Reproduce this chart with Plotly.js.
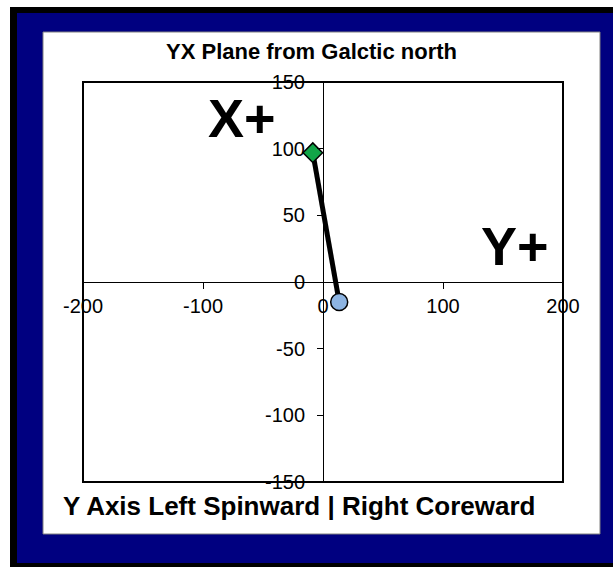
<!DOCTYPE html>
<html>
<head>
<meta charset="utf-8">
<script src="https://cdn.plot.ly/plotly-3.0.1.min.js"></script>
<style>
  html, body { margin: 0; padding: 0; background: #ffffff; }
  #chart { width: 613px; height: 569px; }
</style>
</head>
<body>
<div id="chart"></div>
<script>
// ---- data ----
var yCoordinates = [-8.5, 13.5];      // horizontal axis: Y (spinward - / coreward +)
var xCoordinates = [97, -15];         // vertical axis: X
var pointSymbols = ['diamond', 'circle'];
var pointColors = ['#12a548', '#8db4e2'];
var xTickValues = [-200, -100, 0, 100, 200];
var yTickValues = [150, 100, 50, 0, -50, -100, -150];
var chartTitle = 'YX Plane from Galctic north';
var axisCaption = 'Y Axis Left Spinward | Right Coreward';
var quadrantLabels = ['X+', 'Y+'];

// ---- geometry helpers (plot area 83..563 x 82..482) ----
var L = 83, T = 82, W = 480, H = 400;
function xp(px) { return (px - L) / W; }
function yp(py) { return (T + H - py) / H; }

var fontFam = 'Arial, "Liberation Sans", Helvetica, sans-serif';

var trace = {
  type: 'scatter',
  mode: 'lines+markers',
  x: yCoordinates,
  y: xCoordinates,
  opacity: 1,
  line: { color: '#000000', width: 5 },
  marker: {
    symbol: pointSymbols,
    color: pointColors,
    size: [15, 17],
    opacity: 1,
    line: { color: '#000000', width: 1.5 }
  },
  hoverinfo: 'x+y',
  showlegend: false,
  cliponaxis: false
};

var layout = {
  width: 613,
  height: 569,
  margin: { l: L, r: 613 - L - W, t: T, b: 569 - T - H, pad: 0 },
  paper_bgcolor: '#ffffff',
  plot_bgcolor: '#ffffff',
  showlegend: false,
  font: { family: fontFam, color: '#000000', size: 20 },
  title: {
    text: '<b>' + chartTitle + '</b>',
    font: { family: fontFam, size: 22, color: '#000000' },
    x: 311.5 / 613, xanchor: 'center',
    y: 1 - 51 / 569, yanchor: 'middle',
    xref: 'container', yref: 'container'
  },
  xaxis: {
    range: [-200, 200],
    tickvals: xTickValues,
    ticktext: xTickValues.map(String),
    anchor: 'free', position: 0.5,
    showline: true, linecolor: '#000000', linewidth: 1,
    ticks: 'outside', ticklen: 6, tickwidth: 1, tickcolor: '#000000',
    ticklabelstandoff: 0,
    showgrid: false, zeroline: false,
    tickfont: { family: fontFam, size: 20, color: '#000000' },
    fixedrange: true
  },
  xaxis2: {
    overlaying: 'x', matches: 'x',
    range: [-200, 200],
    tickvals: xTickValues,
    anchor: 'free', position: 0.5,
    showline: false,
    ticks: 'inside', ticklen: 6, tickwidth: 1, tickcolor: '#000000',
    showticklabels: false, showgrid: false, zeroline: false,
    fixedrange: true
  },
  yaxis: {
    range: [-150, 150],
    tickvals: yTickValues,
    ticktext: yTickValues.map(String),
    anchor: 'free', position: 0.5,
    showline: true, linecolor: '#000000', linewidth: 1,
    ticks: 'outside', ticklen: 6, tickwidth: 1, tickcolor: '#000000',
    ticklabelstandoff: 8,
    showgrid: false, zeroline: false,
    tickfont: { family: fontFam, size: 20, color: '#000000' },
    fixedrange: true
  },
  shapes: [
    // outer black frame
    { type: 'rect', xref: 'paper', yref: 'paper', layer: 'below',
      x0: xp(10), x1: xp(640), y0: yp(7), y1: yp(567),
      fillcolor: '#000000', line: { width: 0 } },
    // navy chart area
    { type: 'rect', xref: 'paper', yref: 'paper', layer: 'below',
      x0: xp(17), x1: xp(640), y0: yp(13), y1: yp(563),
      fillcolor: '#000080', line: { width: 0 } },
    // white inner panel
    { type: 'rect', xref: 'paper', yref: 'paper', layer: 'below',
      x0: xp(43), x1: xp(600), y0: yp(32), y1: yp(534),
      fillcolor: '#ffffff', line: { color: '#808080', width: 1 } },
    // plot area border
    { type: 'rect', xref: 'paper', yref: 'paper', layer: 'below',
      x0: 0, x1: 1, y0: 0, y1: 1,
      fillcolor: '#ffffff', line: { color: '#000000', width: 2 } }
  ],
  annotations: [
    { xref: 'paper', yref: 'paper', x: xp(242), y: yp(118),
      xanchor: 'center', yanchor: 'middle', showarrow: false,
      text: '<b>' + quadrantLabels[0] + '</b>',
      font: { family: fontFam, size: 54, color: '#000000' } },
    { xref: 'paper', yref: 'paper', x: xp(515), y: yp(246),
      xanchor: 'center', yanchor: 'middle', showarrow: false,
      text: '<b>' + quadrantLabels[1] + '</b>',
      font: { family: fontFam, size: 54, color: '#000000' } },
    { xref: 'paper', yref: 'paper', x: xp(299), y: yp(506),
      xanchor: 'center', yanchor: 'middle', showarrow: false,
      text: '<b>' + axisCaption + '</b>',
      font: { family: fontFam, size: 26, color: '#000000' } }
  ]
};

Plotly.newPlot('chart', [trace], layout, { displayModeBar: false, staticPlot: true });
</script>
</body>
</html>
